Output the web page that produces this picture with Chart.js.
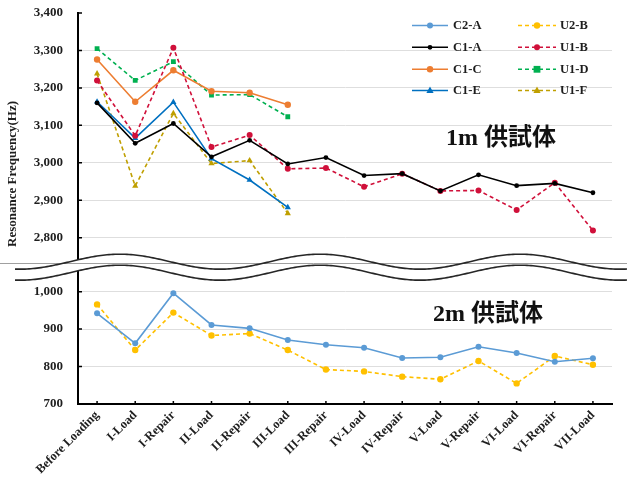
<!DOCTYPE html>
<html>
<head>
<meta charset="utf-8">
<script src="https://cdn.jsdelivr.net/npm/chart.js@4/dist/chart.umd.min.js"></script>
<style>
  html, body { margin: 0; padding: 0; background: #fff; }
  #wrap { width: 627px; height: 479px; }
</style>
</head>
<body>
<div id="wrap"><canvas id="c" width="627" height="479"></canvas></div>
<script>
// Test stages along the x axis
const categories = ['Before Loading', 'I-Load', 'I-Repair', 'II-Load', 'II-Repair', 'III-Load',
  'III-Repair', 'IV-Load', 'IV-Repair', 'V-Load', 'V-Repair', 'VI-Load', 'VI-Repair', 'VII-Load'];

// 2m specimens (Hz)
const c2A = [942, 862, 996, 911, 902, 871, 858, 850, 823, 825, 853, 836, 813, 822];
const u2B = [966, 844, 944, 883, 888, 844, 792, 787, 773, 766, 815, 755, 828, 805];

// 1m specimens (Hz)
const c1A = [3160, 3052, 3105, 3016, 3060, 2997, 3014, 2966, 2971, 2925, 2968, 2939, 2945, 2920];
const u1B = [3220, 3072, 3307, 3042, 3074, 2984, 2986, 2936, 2971, 2925, 2926, 2874, 2947, 2819];
const c1C = [3276, 3163, 3247, 3191, 3187, 3155];
const u1D = [3305, 3220, 3270, 3181, 3182, 3123];
const c1E = [3163, 3066, 3162, 3011, 2954, 2881];
const u1F = [3238, 2938, 3132, 2998, 3006, 2865];

// Axis ranges of the two panels of the broken axis
const upperRange = [2720, 3400];
const lowerRange = [700, 1064];
const tickStep = 100;

const panelLabels = ['1m 供試体', '2m 供試体'];
const yTitle = 'Resonance Frequency(Hz)';

const SERIF = "'Liberation Serif', 'Times New Roman', serif";
const TEXT = '#1e1e1e';

function series(label, data, axis, color, dashed, pointStyle, radius) {
  return {
    label, data, yAxisID: axis,
    borderColor: color, backgroundColor: color,
    borderWidth: 1.6,
    borderDash: dashed ? [4, 3] : [],
    pointStyle, pointRadius: radius, pointHoverRadius: radius,
    pointBorderWidth: 0,
    tension: 0, spanGaps: false, fill: false
  };
}

const datasets = [
  series('C2-A', c2A, 'yBot', '#5b9bd5', false, 'circle', 3),
  series('U2-B', u2B, 'yBot', '#ffc000', true, 'circle', 3.2),
  series('C1-A', c1A, 'yTop', '#000000', false, 'circle', 2.4),
  series('U1-B', u1B, 'yTop', '#d0103a', true, 'circle', 3),
  series('C1-C', c1C, 'yTop', '#ed7d31', false, 'circle', 3.2),
  series('U1-D', u1D, 'yTop', '#00b050', true, 'rect', 3.4),
  series('C1-E', c1E, 'yTop', '#0070c0', false, 'triangle', 3.6),
  series('U1-F', u1F, 'yTop', '#bf9f00', true, 'triangle', 3.6)
];

function gridOpts(skip) {
  return {
    color: ctx => (ctx.tick && ctx.tick.value === skip) ? 'rgba(0,0,0,0)' : '#dedede',
    drawTicks: true,
    tickLength: 14,
    tickColor: 'rgba(0,0,0,0)'
  };
}

const yTickOpts = {
  stepSize: tickStep,
  includeBounds: false,
  padding: 1,
  color: TEXT,
  font: { family: SERIF, size: 13, weight: 'bold' },
  callback: v => v.toLocaleString('en-US')
};

function drawMarker(ctx, style, x, y, r, color) {
  ctx.save();
  ctx.fillStyle = color;
  ctx.setLineDash([]);
  ctx.beginPath();
  if (style === 'rect') {
    ctx.rect(x - r, y - r, 2 * r, 2 * r);
  } else if (style === 'triangle') {
    ctx.moveTo(x, y - r * 1.1);
    ctx.lineTo(x + r, y + r * 0.7);
    ctx.lineTo(x - r, y + r * 0.7);
    ctx.closePath();
  } else {
    ctx.arc(x, y, r, 0, Math.PI * 2);
  }
  ctx.fill();
  ctx.restore();
}

// Short inward tick marks on both axes
const innerTicks = {
  id: 'innerTicks',
  beforeDatasetsDraw(chart) {
    const ctx = chart.ctx;
    const area = chart.chartArea;
    ctx.save();
    ctx.strokeStyle = '#000';
    ctx.lineWidth = 1.5;
    ctx.beginPath();
    ['yTop', 'yBot'].forEach(id => {
      const s = chart.scales[id];
      s.ticks.forEach((t, i) => {
        const y = s.getPixelForTick(i);
        ctx.moveTo(area.left, y);
        ctx.lineTo(area.left + 4, y);
      });
    });
    const xs = chart.scales.x;
    xs.ticks.forEach((t, i) => {
      const x = xs.getPixelForTick(i);
      ctx.moveTo(x, area.bottom);
      ctx.lineTo(x, area.bottom - 3);
    });
    ctx.stroke();
    ctx.restore();
  }
};

// Wavy break between the two panels, legend, panel captions and axis title
const decorations = {
  id: 'decorations',
  afterDraw(chart) {
    const ctx = chart.ctx;
    const b = chart.scales.yTop.bottom;
    const W = chart.width;
    const wave = x => -7.5 * Math.cos(2 * Math.PI * (x - 120) / 200);
    const up = x => b - 6 + wave(x);
    const lo = x => b + 5 + wave(x);
    const x0 = 15, x1 = W;

    ctx.save();
    // white band
    ctx.beginPath();
    ctx.moveTo(x0, up(x0));
    for (let x = x0; x <= x1; x += 2) ctx.lineTo(x, up(x));
    for (let x = x1; x >= x0; x -= 2) ctx.lineTo(x, lo(x));
    ctx.closePath();
    ctx.fillStyle = '#ffffff';
    ctx.fill();
    // thin rule through the break
    ctx.strokeStyle = '#a0a0a0';
    ctx.lineWidth = 1;
    ctx.beginPath();
    ctx.moveTo(0, Math.round(b - 4.4) + 0.5);
    ctx.lineTo(W, Math.round(b - 4.4) + 0.5);
    ctx.stroke();
    // wave outlines
    ctx.strokeStyle = '#262626';
    ctx.lineWidth = 1.6;
    [up, lo].forEach(f => {
      ctx.beginPath();
      ctx.moveTo(x0, f(x0));
      for (let x = x0; x <= x1; x += 2) ctx.lineTo(x, f(x));
      ctx.stroke();
    });
    ctx.restore();

    // legend: two columns, four rows
    const ds = chart.data.datasets;
    const cols = [{ lx: 412, rx: 448, tx: 453 }, { lx: 518, rx: 556, tx: 560 }];
    const rows = [25.5, 47.3, 69.3, 90.5];
    ctx.save();
    ctx.font = 'bold 12.5px ' + SERIF;
    ctx.textBaseline = 'middle';
    ctx.textAlign = 'left';
    ds.forEach((d, i) => {
      const c = cols[i % 2];
      const y = rows[Math.floor(i / 2)];
      ctx.strokeStyle = d.borderColor;
      ctx.lineWidth = 1.6;
      ctx.setLineDash(d.borderDash);
      ctx.beginPath();
      ctx.moveTo(c.lx, y);
      ctx.lineTo(c.rx, y);
      ctx.stroke();
      drawMarker(ctx, d.pointStyle, (c.lx + c.rx) / 2, y, d.pointRadius, d.borderColor);
      ctx.fillStyle = TEXT;
      ctx.fillText(d.label, c.tx, y + 0.5);
    });
    ctx.restore();

    // panel captions
    ctx.save();
    ctx.fillStyle = '#111';
    ctx.font = "bold 24px 'Liberation Serif', 'Noto Sans CJK JP', serif";
    ctx.textBaseline = 'middle';
    ctx.textAlign = 'left';
    ctx.fillText(panelLabels[0], 446, 139);
    ctx.fillText(panelLabels[1], 433, 315);
    ctx.restore();

    // y axis title
    ctx.save();
    ctx.translate(13, 174);
    ctx.rotate(-Math.PI / 2);
    ctx.font = 'bold 13px ' + SERIF;
    ctx.fillStyle = TEXT;
    ctx.textAlign = 'center';
    ctx.textBaseline = 'middle';
    ctx.fillText(yTitle, 0, 0);
    ctx.restore();
  }
};

new Chart(document.getElementById('c'), {
  type: 'line',
  data: { labels: categories, datasets },
  options: {
    responsive: false,
    animation: false,
    layout: { padding: { left: 0, right: 15, top: 13, bottom: 0 } },
    plugins: { legend: { display: false }, tooltip: { enabled: false } },
    scales: {
      x: {
        type: 'category',
        offset: true,
        grid: { display: false, drawTicks: false },
        border: { color: '#000', width: 2 },
        ticks: {
          autoSkip: false, minRotation: 45, maxRotation: 45, padding: 4,
          color: TEXT, font: { family: SERIF, size: 12.5, weight: 'bold' }
        },
        afterFit(s) { s.height = 75; }
      },
      // lower panel (stacked scales are laid out with the last one on top)
      yBot: {
        type: 'linear', position: 'left', stack: 'freq', stackWeight: lowerRange[1] - lowerRange[0],
        min: lowerRange[0], max: lowerRange[1],
        grid: gridOpts(lowerRange[0]),
        border: { color: '#000', width: 2 },
        ticks: yTickOpts,
        afterFit(s) { s.width = 78; }
      },
      yTop: {
        type: 'linear', position: 'left', stack: 'freq', stackWeight: upperRange[1] - upperRange[0],
        min: upperRange[0], max: upperRange[1],
        grid: gridOpts(upperRange[1]),
        border: { color: '#000', width: 2 },
        ticks: yTickOpts,
        afterFit(s) { s.width = 78; }
      }
    }
  },
  plugins: [innerTicks, decorations]
});
</script>
</body>
</html>
